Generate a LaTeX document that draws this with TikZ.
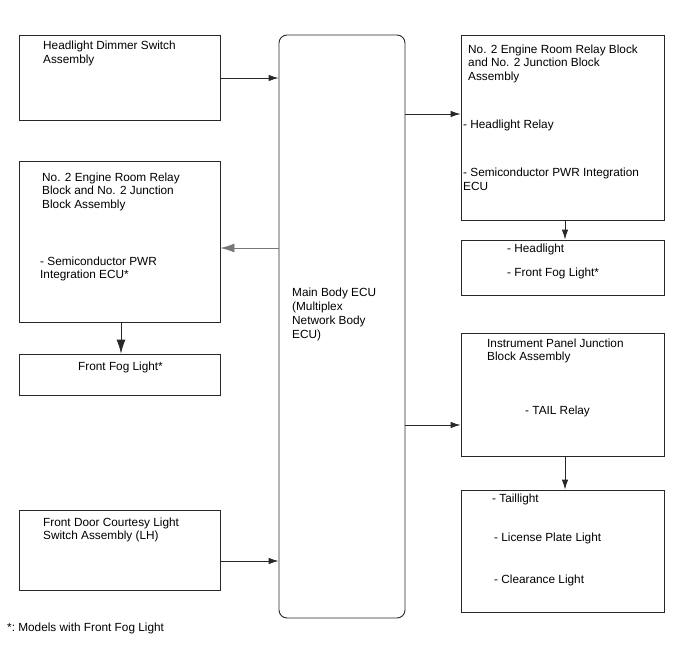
\documentclass[tikz,border=0pt]{standalone}
\usepackage{fontspec}
\setmainfont{Liberation Sans}
\usetikzlibrary{arrows.meta}
\definecolor{edge}{RGB}{40,40,40}
\definecolor{lgray}{RGB}{120,120,120}
\tikzset{
  box/.style={draw=edge, line width=0.9pt, inner sep=0pt, fill=white},
  txt/.style={anchor=base west, inner sep=0pt, align=left, font=\fontsize{11.8}{13.7}\selectfont},
  arr/.style={draw=edge, line width=0.9pt, -{Latex[length=10pt,width=6.5pt]}},
  bigarr/.style={line width=0.9pt, -{Latex[length=14pt,width=9pt]}},
}
\begin{document}
\begin{tikzpicture}[x=1pt,y=-1pt]
\useasboundingbox (0,0) rectangle (688,658);
\fill[white] (0,0) rectangle (688,658);

% left boxes
\node[box, minimum width=201pt, minimum height=85pt] (b1) at (119.5,77.5) {};
\node[box, minimum width=201pt, minimum height=161pt] (b2) at (119.5,241.5) {};
\node[box, minimum width=201pt, minimum height=41pt] (b3) at (119.5,374.5) {};
\node[box, minimum width=201pt, minimum height=80pt] (b4) at (119.5,550) {};
% ECU
\node[box, rounded corners=8pt, minimum width=126pt, minimum height=583pt] (ecu) at (342,326.5) {};
% right boxes
\node[box, minimum width=203pt, minimum height=185pt] (r1) at (562.5,127.5) {};
\node[box, minimum width=203pt, minimum height=55pt] (r2) at (562.5,267.5) {};
\node[box, minimum width=203pt, minimum height=123pt] (r3) at (562.5,394.5) {};
\node[box, minimum width=203pt, minimum height=122pt] (r4) at (562.5,551) {};

% texts (base = baseline of the last line)
\node[txt] (t1) at (43,63.5) {Headlight Dimmer Switch\\Assembly};
\node[txt] (t2) at (42,208.4) {No. 2 Engine Room Relay\\Block and No. 2 Junction\\Block Assembly};
\node[txt] (t2b) at (40,278.7) {- Semiconductor PWR\\Integration ECU*};
\node[txt] (t3) at (78,370) {Front Fog Light*};
\node[txt] (t4) at (43,539.7) {Front Door Courtesy Light\\Switch Assembly (LH)};
\node[txt] (te) at (292,338) {Main Body ECU\\(Multiplex\\Network Body\\ECU)};
\node[txt] (r1a) at (468,80.5) {No. 2 Engine Room Relay Block\\and No. 2 Junction Block\\Assembly};
\node[txt] (r1b) at (463,128.5) {- Headlight Relay};
\node[txt] (r1c) at (463,190) {- Semiconductor PWR Integration\\ECU};
\node[txt] (r2a) at (507,252) {- Headlight};
\node[txt] (r2b) at (507,276) {- Front Fog Light*};
\node[txt] (r3a) at (487,360.7) {Instrument Panel Junction\\Block Assembly};
\node[txt] (r3b) at (525,414) {- TAIL Relay};
\node[txt] (r4a) at (492,502) {- Taillight};
\node[txt] (r4b) at (494,541) {- License Plate Light};
\node[txt] (r4c) at (494,583) {- Clearance Light};
\node[txt] (fn) at (7,631) {*:~Models with Front Fog Light};

% connectors
\coordinate (y1) at (0,78);
\coordinate (y2) at (0,248);
\coordinate (y3) at (0,114);
\coordinate (y4) at (0,425);
\coordinate (y5) at (0,561);
\coordinate (xr) at (565,0);
\coordinate (xl) at (121,0);
\draw[arr] (b1.east |- y1) -- (ecu.west |- y1);
\draw[bigarr, draw=lgray, fill=edge] (ecu.west |- y2) -- (b2.east |- y2);
\draw[arr] (ecu.east |- y3) -- (r1.west |- y3);
\draw[arr] (r1.south -| xr) -- (r2.north -| xr);
\draw[bigarr, draw=edge] (b2.south -| xl) -- (b3.north -| xl);
\draw[arr] (ecu.east |- y4) -- (r3.west |- y4);
\draw[arr] (r3.south -| xr) -- (r4.north -| xr);
\draw[arr] (b4.east |- y5) -- (ecu.west |- y5);
\end{tikzpicture}
\end{document}
